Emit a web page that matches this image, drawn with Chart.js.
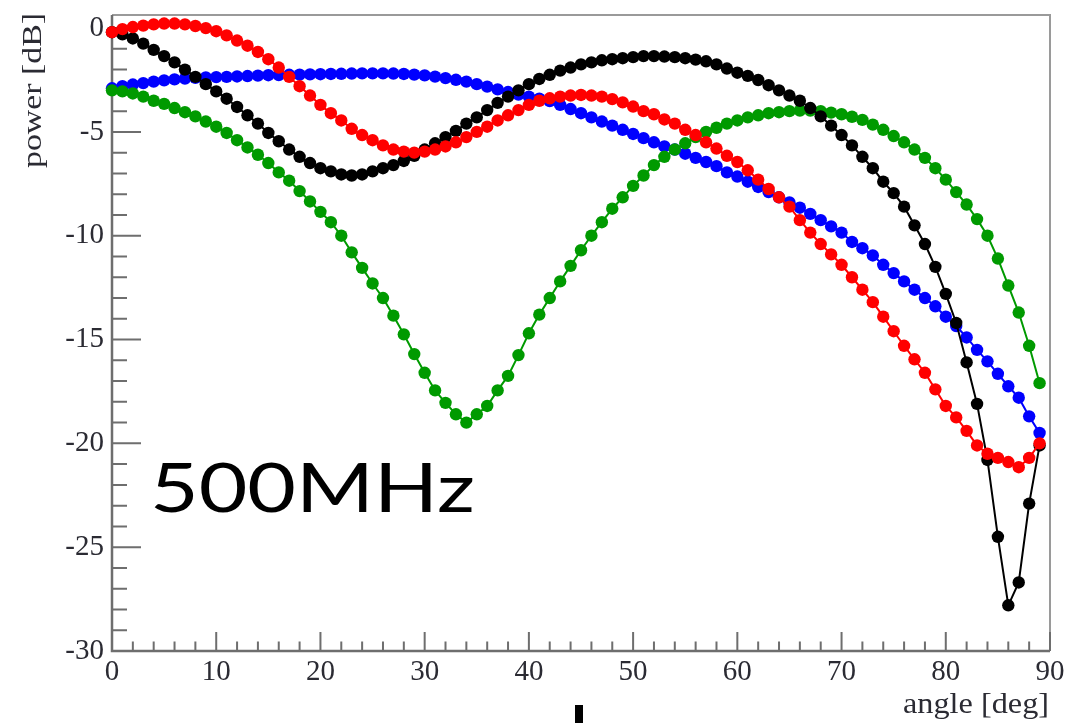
<!DOCTYPE html>
<html>
<head>
<meta charset="utf-8">
<title>power vs angle</title>
<script src="https://cdn.jsdelivr.net/npm/chart.js@4.4.1/dist/chart.umd.min.js"></script>
<style>
  html, body { margin: 0; padding: 0; background: #fff; }
  #wrap { width: 1066px; height: 723px; }
</style>
</head>
<body>
<div id="wrap"><canvas id="powerChart" width="1066" height="723"></canvas></div>
<script>
// angle in degrees, one sample per degree
const angles = [
  0, 1, 2, 3, 4, 5, 6, 7, 8, 9, 10, 11, 12, 13, 14, 15, 16, 17, 18, 19,
  20, 21, 22, 23, 24, 25, 26, 27, 28, 29, 30, 31, 32, 33, 34, 35, 36, 37, 38, 39,
  40, 41, 42, 43, 44, 45, 46, 47, 48, 49, 50, 51, 52, 53, 54, 55, 56, 57, 58, 59,
  60, 61, 62, 63, 64, 65, 66, 67, 68, 69, 70, 71, 72, 73, 74, 75, 76, 77, 78, 79,
  80, 81, 82, 83, 84, 85, 86, 87, 88, 89
];

// power [dB] for each curve
const blackPower = [
  -0.2, -0.3, -0.5, -0.75, -1.05, -1.35, -1.65, -2.0, -2.35, -2.7,
  -3.05, -3.4, -3.8, -4.2, -4.6, -5.05, -5.45, -5.85, -6.2, -6.5,
  -6.75, -6.9, -7.05, -7.1, -7.05, -6.9, -6.75, -6.6, -6.4, -6.15,
  -5.85, -5.55, -5.25, -4.95, -4.6, -4.3, -3.95, -3.6, -3.3, -3.0,
  -2.7, -2.45, -2.25, -2.05, -1.9, -1.75, -1.65, -1.55, -1.5, -1.45,
  -1.4, -1.35, -1.35, -1.37, -1.4, -1.45, -1.52, -1.6, -1.75, -1.95,
  -2.15, -2.3, -2.5, -2.75, -3.0, -3.25, -3.5, -3.85, -4.25, -4.7,
  -5.15, -5.65, -6.2, -6.75, -7.4, -7.95, -8.6, -9.5, -10.4, -11.5,
  -12.8, -14.2, -16.1, -18.1, -20.8, -24.5, -27.8, -26.7, -22.9, -20.1
];

const redPower = [
  -0.2, -0.05, 0.05, 0.12, 0.18, 0.22, 0.22, 0.18, 0.1, 0.0,
  -0.15, -0.35, -0.6, -0.85, -1.15, -1.5, -1.9, -2.35, -2.8, -3.25,
  -3.7, -4.1, -4.45, -4.85, -5.15, -5.4, -5.65, -5.85, -5.95, -6.0,
  -5.95, -5.85, -5.7, -5.5, -5.25, -5.0, -4.75, -4.45, -4.2, -3.95,
  -3.7, -3.5, -3.38, -3.3, -3.25, -3.22, -3.25, -3.3, -3.42, -3.58,
  -3.78, -4.0, -4.15, -4.4, -4.6, -4.9, -5.15, -5.5, -5.8, -6.15,
  -6.45, -6.85, -7.3, -7.75, -8.15, -8.6, -9.25, -9.85, -10.4, -10.9,
  -11.4, -12.0, -12.6, -13.2, -13.9, -14.6, -15.3, -15.95, -16.6, -17.4,
  -18.2, -18.75, -19.4, -20.1, -20.5, -20.7, -20.9, -21.15, -20.7, -20.0
];

const bluePower = [
  -2.9, -2.8, -2.72, -2.65, -2.58, -2.52, -2.47, -2.43, -2.4, -2.38,
  -2.36, -2.35, -2.33, -2.31, -2.29, -2.27, -2.26, -2.25, -2.24, -2.23,
  -2.22, -2.21, -2.2, -2.19, -2.18, -2.18, -2.18, -2.19, -2.21, -2.24,
  -2.28, -2.34, -2.41, -2.49, -2.58, -2.7, -2.82, -2.95, -3.08, -3.2,
  -3.3, -3.4, -3.52, -3.7, -3.9, -4.1, -4.3, -4.5, -4.7, -4.9,
  -5.1, -5.3, -5.5, -5.7, -5.85, -6.05, -6.25, -6.45, -6.65, -6.95,
  -7.15, -7.4, -7.65, -7.9, -8.15, -8.4, -8.65, -8.95, -9.25, -9.55,
  -9.85, -10.3, -10.6, -10.95, -11.4, -11.8, -12.2, -12.6, -13.0, -13.4,
  -13.9, -14.35, -14.9, -15.5, -16.05, -16.65, -17.25, -17.8, -18.7, -19.5
];

const greenPower = [
  -3.0, -3.05, -3.15, -3.3, -3.5, -3.65, -3.85, -4.05, -4.25, -4.5,
  -4.75, -5.05, -5.4, -5.75, -6.1, -6.5, -6.95, -7.35, -7.85, -8.35,
  -8.85, -9.35, -10.0, -10.8, -11.55, -12.3, -13.0, -13.85, -14.75, -15.7,
  -16.6, -17.45, -18.05, -18.6, -19.0, -18.6, -18.2, -17.45, -16.75, -15.75,
  -14.7, -13.8, -13.0, -12.2, -11.45, -10.7, -10.0, -9.35, -8.7, -8.15,
  -7.6, -7.1, -6.6, -6.2, -5.85, -5.55, -5.25, -5.0, -4.8, -4.6,
  -4.45, -4.3, -4.2, -4.1, -4.05, -4.0, -3.97, -3.97, -4.0, -4.07,
  -4.15, -4.27, -4.42, -4.65, -4.9, -5.2, -5.5, -5.85, -6.25, -6.75,
  -7.3, -7.9, -8.5, -9.2, -10.0, -11.1, -12.4, -13.7, -15.3, -17.1
];

const xTickValues = [0, 10, 20, 30, 40, 50, 60, 70, 80, 90];
const yTickValues = [-30, -25, -20, -15, -10, -5, 0];

const serif = '"Liberation Serif", "DejaVu Serif", serif';

function series(values) {
  return angles.map((a, i) => ({ x: a, y: values[i] }));
}

function curve(label, values, color, order) {
  return {
    label: label,
    data: series(values),
    borderColor: color,
    backgroundColor: color,
    pointBackgroundColor: color,
    pointBorderWidth: 0,
    pointRadius: 6.2,
    borderWidth: 2,
    tension: 0,
    clip: false,
    order: order
  };
}

// ROOT-style frame with inward major/minor ticks
const frameTicks = {
  id: 'frameTicks',
  beforeDatasetsDraw(chart) {
    const { ctx, chartArea: a, scales } = chart;
    const xs = scales.x, ys = scales.y;
    ctx.save();
    ctx.lineCap = 'butt';

    ctx.strokeStyle = '#9a9a9a';
    ctx.lineWidth = 2;
    ctx.beginPath();
    ctx.moveTo(a.left, a.top);
    ctx.lineTo(a.right, a.top);
    ctx.lineTo(a.right, a.bottom);
    ctx.stroke();

    ctx.strokeStyle = '#6e6e6e';
    ctx.lineWidth = 2.5;
    ctx.beginPath();
    ctx.moveTo(a.left, a.top);
    ctx.lineTo(a.left, a.bottom);
    ctx.lineTo(a.right, a.bottom);
    ctx.stroke();

    ctx.lineWidth = 2;
    ctx.beginPath();
    for (let v = xs.min; v <= xs.max + 1e-6; v += 2) {
      const px = xs.getPixelForValue(v);
      const len = v % 10 === 0 ? 19 : 9.5;
      ctx.moveTo(px, a.bottom);
      ctx.lineTo(px, a.bottom - len);
    }
    for (let v = -30; v <= 0; v += 1) {
      const py = ys.getPixelForValue(v);
      const len = v % 5 === 0 ? 29 : 15;
      ctx.moveTo(a.left, py);
      ctx.lineTo(a.left + len, py);
    }
    ctx.stroke();
    ctx.restore();
  }
};

// axis titles, frequency tag and the stray bar under the plot
const annotations = {
  id: 'annotations',
  afterDraw(chart) {
    const ctx = chart.ctx;
    ctx.save();
    ctx.fillStyle = '#2b2b33';
    ctx.textBaseline = 'alphabetic';

    // x title, right aligned at the end of the axis
    ctx.font = '30px ' + serif;
    ctx.textAlign = 'right';
    let w = ctx.measureText('angle [deg]').width;
    ctx.save();
    ctx.translate(1049, 713);
    ctx.scale(146 / w, 1);
    ctx.fillText('angle [deg]', 0, 0);
    ctx.restore();

    // y title, rotated, ending at the top of the frame
    ctx.font = '28px ' + serif;
    w = ctx.measureText('power [dB]').width;
    ctx.save();
    ctx.translate(41, 13);
    ctx.rotate(-Math.PI / 2);
    ctx.scale(155 / w, 1);
    ctx.textAlign = 'right';
    ctx.fillText('power [dB]', 0, 0);
    ctx.restore();

    // frequency tag
    ctx.fillStyle = '#000';
    ctx.font = '68px Lato, "Open Sans", sans-serif';
    ctx.textAlign = 'left';
    w = ctx.measureText('500MHz').width;
    ctx.save();
    ctx.translate(150, 512);
    ctx.scale(325 / w, 1);
    ctx.fillText('500MHz', 0, 0);
    ctx.restore();

    ctx.fillRect(575, 705, 8, 18);
    ctx.restore();
  }
};

const ctx = document.getElementById('powerChart').getContext('2d');
const powerChart = new Chart(ctx, {
  type: 'line',
  data: {
    datasets: [
      curve('red', redPower, '#ff0000', 0),
      curve('black', blackPower, '#000000', 1),
      curve('green', greenPower, '#009a00', 2),
      curve('blue', bluePower, '#0000ff', 3)
    ]
  },
  options: {
    responsive: false,
    animation: false,
    devicePixelRatio: 1,
    layout: { padding: { left: 0, right: 16, top: 15, bottom: 0 } },
    plugins: {
      legend: { display: false },
      tooltip: { enabled: false }
    },
    scales: {
      x: {
        type: 'linear',
        min: 0,
        max: 90,
        afterBuildTicks: (scale) => { scale.ticks = xTickValues.map(v => ({ value: v })); },
        afterFit: (scale) => {
          scale.height = 72;
          scale.paddingLeft = 0;
          scale.paddingRight = 0;
        },
        border: { display: false },
        grid: { display: false, drawTicks: false },
        ticks: {
          padding: 4,
          autoSkip: false,
          maxRotation: 0,
          color: '#2b2b33',
          font: { family: serif, size: 29 }
        }
      },
      y: {
        type: 'linear',
        min: -30,
        max: 0.63,
        afterBuildTicks: (scale) => { scale.ticks = yTickValues.map(v => ({ value: v })); },
        afterFit: (scale) => {
          scale.width = 112;
          scale.paddingTop = 0;
          scale.paddingBottom = 0;
        },
        border: { display: false },
        grid: { display: false, drawTicks: false },
        ticks: {
          padding: 8,
          autoSkip: false,
          color: '#2b2b33',
          font: { family: serif, size: 29 }
        }
      }
    }
  },
  plugins: [frameTicks, annotations]
});
</script>
</body>
</html>
